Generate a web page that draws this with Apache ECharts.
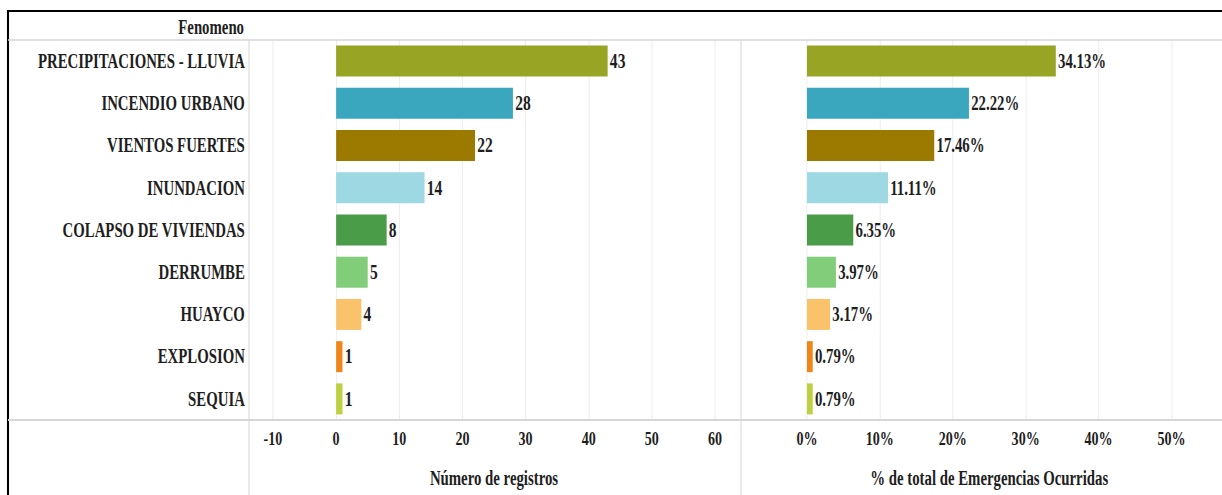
<!DOCTYPE html>
<html>
<head>
<meta charset="utf-8">
<script src="https://cdn.jsdelivr.net/npm/echarts@6/dist/echarts.min.js"></script>
<style>
  html, body { margin: 0; padding: 0; background: #ffffff; overflow: hidden; }
  #wrap { width: 1222px; height: 495px; overflow: hidden; }
  #chart { width: 1650px; height: 495px; transform: scaleX(0.740606); transform-origin: 0 0; }
</style>
</head>
<body>
<div id="wrap"><div id="chart"></div></div>
<script>
// ---- data ----
var categories = ['PRECIPITACIONES - LLUVIA', 'INCENDIO URBANO', 'VIENTOS FUERTES', 'INUNDACION',
  'COLAPSO DE VIVIENDAS', 'DERRUMBE', 'HUAYCO', 'EXPLOSION', 'SEQUIA'];
var counts = [43, 28, 22, 14, 8, 5, 4, 1, 1];
var percents = [34.13, 22.22, 17.46, 11.11, 6.35, 3.97, 3.17, 0.79, 0.79];
var headerText = 'Fenomeno';
var countAxisTitle = 'Número de registros';
var percentAxisTitle = '% de total de Emergencias Ocurridas';

// ---- styles ----
var palette = ['#98a424', '#3aa7bf', '#9c7a00', '#9dd8e3', '#4a9c48', '#82cd7a', '#fbc26c', '#f0861a', '#bdd040'];
var FONT = "'Liberation Serif', 'Times New Roman', serif";
var TXT = '#1e1e1e';
var GRIDC = '#ededed';
var RULE = '#d6d6d6';

var chart = echarts.init(document.getElementById('chart'), null, { renderer: 'svg' });

var W = 1650;
var leftX = 10.8, colDiv = 336.2, panelDiv = 1000.5;

var option = {
  animation: false,
  color: palette,
  textStyle: { fontFamily: FONT },
  grid: [
    { left: 368.6, right: W - 965.4, top: 40, bottom: 75, containLabel: false },
    { left: 1089.6, right: W - 1581.8, top: 40, bottom: 75, containLabel: false }
  ],
  xAxis: [
    {
      gridIndex: 0, type: 'value', min: -10, max: 60, interval: 10,
      axisLine: { show: false }, axisTick: { show: false },
      splitLine: { show: true, lineStyle: { color: GRIDC, width: 1.35 } },
      axisLabel: { margin: 9, color: TXT, fontSize: 19, fontWeight: 'bold', fontFamily: FONT },
      name: countAxisTitle, nameLocation: 'middle', nameGap: 48,
      nameTextStyle: { color: TXT, fontSize: 20, fontWeight: 'bold', fontFamily: FONT }
    },
    {
      gridIndex: 1, type: 'value', min: 0, max: 50, interval: 10,
      axisLine: { show: false }, axisTick: { show: false },
      splitLine: { show: true, lineStyle: { color: GRIDC, width: 1.35 } },
      axisLabel: { margin: 9, color: TXT, fontSize: 19, fontWeight: 'bold', fontFamily: FONT, formatter: '{value}%' },
      name: percentAxisTitle, nameLocation: 'middle', nameGap: 48,
      nameTextStyle: { color: TXT, fontSize: 20, fontWeight: 'bold', fontFamily: FONT }
    }
  ],
  yAxis: [
    {
      gridIndex: 0, type: 'category', data: categories, inverse: true,
      axisLine: { show: false }, axisTick: { show: false },
      axisLabel: { margin: 38, color: TXT, fontSize: 20, fontWeight: 'bold', fontFamily: FONT }
    },
    {
      gridIndex: 1, type: 'category', data: categories, inverse: true,
      axisLine: { show: false }, axisTick: { show: false }, axisLabel: { show: false }
    }
  ],
  series: [
    {
      type: 'bar', xAxisIndex: 0, yAxisIndex: 0, data: counts, colorBy: 'data', barWidth: 31,
      label: { show: true, position: 'right', distance: 3, color: TXT, fontSize: 21, fontWeight: 'bold', fontFamily: FONT }
    },
    {
      type: 'bar', xAxisIndex: 1, yAxisIndex: 1, data: percents, colorBy: 'data', barWidth: 31,
      label: { show: true, position: 'right', distance: 3, color: TXT, fontSize: 20, fontWeight: 'bold', fontFamily: FONT,
        formatter: function (p) { return p.value.toFixed(2) + '%'; } }
    }
  ],
  graphic: [
    { type: 'line', shape: { x1: leftX, y1: 11, x2: W, y2: 11 }, style: { stroke: '#000', lineWidth: 2.2 }, z: 10 },
    { type: 'line', shape: { x1: leftX, y1: 10, x2: leftX, y2: 495 }, style: { stroke: '#000', lineWidth: 2.8 }, z: 10 },
    { type: 'line', shape: { x1: leftX, y1: 40, x2: W, y2: 40 }, style: { stroke: RULE, lineWidth: 1.6 }, z: 10 },
    { type: 'line', shape: { x1: leftX, y1: 420, x2: W, y2: 420 }, style: { stroke: RULE, lineWidth: 2 }, z: 10 },
    { type: 'line', shape: { x1: colDiv, y1: 40, x2: colDiv, y2: 495 }, style: { stroke: RULE, lineWidth: 1.4 }, z: 10 },
    { type: 'line', shape: { x1: panelDiv, y1: 40, x2: panelDiv, y2: 495 }, style: { stroke: RULE, lineWidth: 1.4 }, z: 10 },
    { type: 'text', x: 329.5, y: 27, style: { text: headerText, align: 'right', verticalAlign: 'middle',
      fill: TXT, fontSize: 20, fontWeight: 'bold', fontFamily: FONT }, z: 10 }
  ]
};
chart.setOption(option);
</script>
</body>
</html>
